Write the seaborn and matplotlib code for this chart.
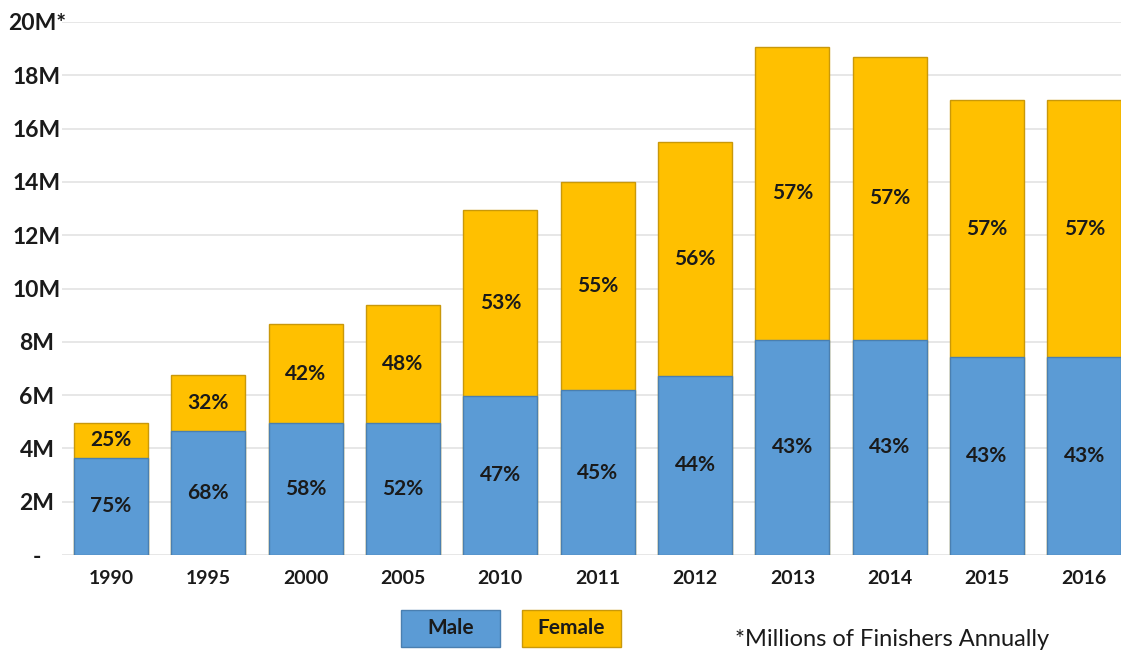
import numpy as np
import pandas as pd
import seaborn as sns
import matplotlib
matplotlib.use('Agg')
import matplotlib.pyplot as plt
from matplotlib.patches import Rectangle

years = ['1990', '1995', '2000', '2005', '2010', '2011', '2012', '2013', '2014', '2015', '2016']
male = [3.65, 4.65, 4.95, 4.95, 5.97, 6.19, 6.72, 8.07, 8.07, 7.43, 7.43]
female = [1.30, 2.10, 3.72, 4.43, 6.98, 7.81, 8.78, 10.99, 10.62, 9.64, 9.64]
male_pct = ['75%', '68%', '58%', '52%', '47%', '45%', '44%', '43%', '43%', '43%', '43%']
female_pct = ['25%', '32%', '42%', '48%', '53%', '55%', '56%', '57%', '57%', '57%', '57%']
yticks = [0, 2, 4, 6, 8, 10, 12, 14, 16, 18, 20]
ytick_labels = ['-', '2M', '4M', '6M', '8M', '10M', '12M', '14M', '16M', '18M', '20M*']

blue = '#5B9BD5'
gold = '#FFC000'
blue_edge = '#4A7FB0'
gold_edge = '#C9980A'

sns.set_theme(style='white')
plt.rcParams['font.family'] = ['Lato', 'DejaVu Sans']

df = pd.DataFrame({'year': years, 'male': male, 'female': female})
df['total'] = df['male'] + df['female']

W, H = 1121, 653
fig = plt.figure(figsize=(11.21, 6.53), dpi=100)
# axes run a bit past the right edge of the picture, as in the original crop
ax = fig.add_axes([62.3 / W, 98 / H, 1070.7 / W, 533 / H])

sns.barplot(data=df, x='year', y='total', color=gold, saturation=1, width=0.76,
            edgecolor=gold_edge, linewidth=1, ax=ax, zorder=2)
sns.barplot(data=df, x='year', y='male', color=blue, saturation=1, width=0.76,
            edgecolor=blue_edge, linewidth=1, ax=ax, zorder=3)

for i in range(len(years)):
    ax.text(i, male[i] / 2, male_pct[i], ha='center', va='center',
            fontsize=15, fontweight='bold', color='#1a1a1a', zorder=4)
    ax.text(i, male[i] + female[i] / 2, female_pct[i], ha='center', va='center',
            fontsize=15, fontweight='bold', color='#1a1a1a', zorder=4)

ax.set_xlim(-0.5, len(years) - 0.5)
ax.set_ylim(0, 20)
ax.set_yticks(yticks)
ax.set_yticklabels(ytick_labels, fontsize=16.5, fontweight='bold', color='#1a1a1a',
                   ha='center')
ax.tick_params(axis='x', labelsize=14, pad=11, length=0, labelcolor='#1a1a1a')
ax.tick_params(axis='y', pad=18.2, length=0)
for lab in ax.get_xticklabels():
    lab.set_fontweight('bold')
ax.set_xlabel('')
ax.set_ylabel('')
ax.yaxis.grid(True, color='#E3E3E3', linewidth=1.2, zorder=0)
ax.set_axisbelow(True)
for s in ax.spines.values():
    s.set_visible(False)

# legend boxes with labels inside
for (x0, lab, fc, ec) in [(401, 'Male', blue, blue_edge), (522, 'Female', gold, gold_edge)]:
    fig.patches.append(Rectangle((x0 / W, (H - 647) / H), 99 / W, 37 / H,
                                 transform=fig.transFigure, facecolor=fc,
                                 edgecolor=ec, linewidth=1))
    fig.text((x0 + 49.5) / W, (H - 628.5) / H, lab, ha='center', va='center',
             fontsize=15, fontweight='bold', color='#1a1a1a')

fig.text(735 / W, (H - 639) / H, '*Millions of Finishers Annually', ha='left',
         va='center', fontsize=17, color='#1a1a1a')

fig.savefig('out.png', dpi=100)
